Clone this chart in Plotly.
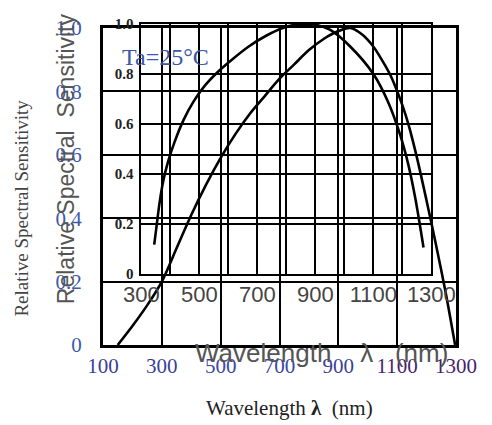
import plotly.graph_objects as go

# ---- data ----
# outer curve (outer axes: 100..1300 nm, 0..1)
wl_a = [150, 200, 250, 300, 350, 400, 450, 500, 550, 600, 650, 700, 750, 800, 850, 900, 940,
        980, 1020, 1060, 1080, 1100, 1120, 1140, 1170, 1200, 1230, 1265, 1297]
rs_a = [0, 0.06, 0.125, 0.2, 0.305, 0.41, 0.505, 0.59, 0.665, 0.73, 0.785, 0.84, 0.885, 0.93, 0.965, 0.99, 1.0,
        0.98, 0.94, 0.88, 0.845, 0.80, 0.75, 0.69, 0.58, 0.455, 0.325, 0.165, 0]
# inner curve (inner axes: 300..1300 nm, 0..1)
wl_b = [344, 352, 362, 375, 392, 415, 445, 480, 520, 565, 615, 670, 730, 790, 850, 900, 950,
        1020, 1100, 1150, 1190, 1220, 1245, 1273]
rs_b = [0.117, 0.19, 0.28, 0.37, 0.45, 0.53, 0.615, 0.69, 0.755, 0.81, 0.86, 0.91, 0.953, 0.985, 1.0, 0.997, 0.977,
        0.91, 0.80, 0.69, 0.565, 0.44, 0.30, 0.105]

outer_x_ticks = [100, 300, 500, 700, 900, 1100, 1300]
outer_x_labels = ["100", "300", "500", "700", "900", "1100", "1300"]
outer_x_colors = ["#3a3f9a", "#3a3f9a", "#3a48a6", "#3a48a6", "#3a3f9a", "#4a1f70", "#4a1f70"]
outer_y_ticks = [0, 0.2, 0.4, 0.6, 0.8, 1.0]
outer_y_labels = ["0", "0.2", "0.4", "0.6", "0.8", "1.0"]
inner_x_ticks = [300, 400, 500, 600, 700, 800, 900, 1000, 1100, 1200, 1300]
inner_x_labels = ["300", "", "500", "", "700", "", "900", "", "1100", "", "1300"]
inner_y_ticks = [0, 0.2, 0.4, 0.6, 0.8, 1.0]
inner_y_labels = ["0", "0.2", "0.4", "0.6", "0.8", "1.0"]

W, H = 492, 425
L, R, T, B = 103, 461, 16, 345  # plot area in pixels
pw, ph = R - L, B - T

def px(x):
    return (x - L) / pw

def py(y):
    return (B - y) / ph

fig = go.Figure()
fig.add_trace(go.Scatter(x=wl_a, y=rs_a, mode="lines", xaxis="x", yaxis="y",
                         line=dict(color="black", width=2.6, shape="spline", smoothing=0.8),
                         showlegend=False, hoverinfo="skip"))
fig.add_trace(go.Scatter(x=wl_b, y=rs_b, mode="lines", xaxis="x2", yaxis="y2",
                         line=dict(color="black", width=2.6, shape="spline", smoothing=0.8),
                         showlegend=False, hoverinfo="skip"))

serif = "Liberation Serif"
sans = "Liberation Sans"

fig.update_layout(
    width=W, height=H,
    margin=dict(l=L, r=W - R, t=T, b=H - B, pad=0),
    paper_bgcolor="white", plot_bgcolor="rgba(0,0,0,0)",
    xaxis=dict(domain=[0, 1], range=[100, 1300], anchor="y",
               tickvals=outer_x_ticks,
               ticktext=[f'<span style="color:{c}">{t}</span>' for t, c in zip(outer_x_labels, outer_x_colors)],
               showgrid=True, gridcolor="black", gridwidth=2,
               showline=True, linecolor="black", linewidth=3, mirror=True,
               zeroline=False, ticks="", ticklabelstandoff=0,
               tickfont=dict(family=serif, size=21, color="#3a45a0")),
    yaxis=dict(domain=[0, py(20)], range=[0, 1], anchor="x",
               tickvals=outer_y_ticks, ticktext=outer_y_labels,
               showgrid=True, gridcolor="black", gridwidth=2,
               showline=True, linecolor="black", linewidth=3, mirror=True,
               zeroline=False, ticks="", ticklabelstandoff=14,
               tickfont=dict(family=serif, size=21, color="#3d5aae")),
    xaxis2=dict(domain=[px(142), px(436)], range=[300, 1300], anchor="y2",
                tickvals=inner_x_ticks, ticktext=inner_x_labels,
                showgrid=True, gridcolor="black", gridwidth=1.8,
                showline=True, linecolor="black", linewidth=1.8, mirror=True,
                zeroline=False, ticks="", ticklabelstandoff=0,
                tickfont=dict(family=sans, size=22, color="#444444")),
    yaxis2=dict(domain=[py(272), 1], range=[0, 1], anchor="x2",
                tickvals=inner_y_ticks, ticktext=inner_y_labels,
                showgrid=True, gridcolor="black", gridwidth=1.8,
                showline=True, linecolor="black", linewidth=1.8, mirror=True,
                zeroline=False, ticks="", ticklabelstandoff=3,
                tickfont=dict(family=serif, size=15, color="#222222", weight="bold")),
)

ann = [
    dict(text="Relative Spectral Sensitivity", x=px(20), y=py(205), textangle=-90,
         xanchor="center", font=dict(family=serif, size=19, color="#444444")),
    dict(text="Relative Spectral  Sensitivity", x=px(65), y=py(154), textangle=-90,
         xanchor="center", font=dict(family=sans, size=23, color="#555555")),
    dict(text="Wavelength <b>λ</b>  (nm)", x=px(292), y=py(410),
         xanchor="center", font=dict(family=serif, size=21, color="#222222")),
    dict(text="Wavelength    λ   (nm)", x=px(194), y=py(353),
         xanchor="left", font=dict(family=sans, size=26, color="#555555")),
    dict(text="Ta=25°C", x=px(166), y=py(50),
         xanchor="center", font=dict(family=serif, size=24, color="#3a58a8")),
]
for a in ann:
    fig.add_annotation(xref="paper", yref="paper", showarrow=False,
                       yanchor="middle", **a)

fig.write_html("out.html")
